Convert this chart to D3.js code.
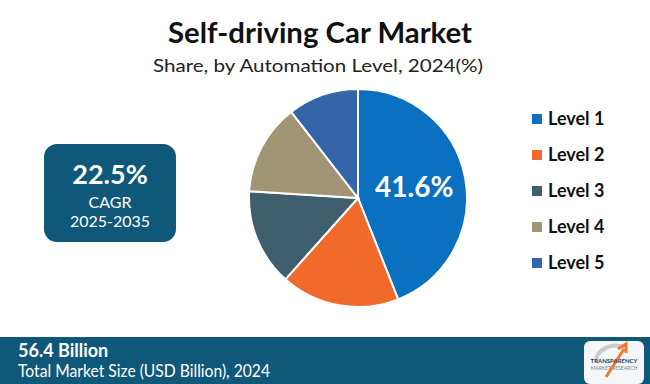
<!DOCTYPE html>
<html>
<head>
<meta charset="utf-8">
<script src="https://cdn.jsdelivr.net/npm/d3@7"></script>
<style>
  body { margin: 0; background: #ffffff; }
  svg { display: block; }
</style>
</head>
<body>
<svg id="chart" width="650" height="384"></svg>
<script>
//////////////////////////////////////
//////////// DATA ////////////////////
//////////////////////////////////////

var levels = ["Level 1", "Level 2", "Level 3", "Level 4", "Level 5"];
var shares = [44.0, 17.6, 14.4, 13.5, 10.5];
var colors = ["#0a70bf", "#f26a2b", "#3f5f6e", "#a19475", "#3565a9"];
var bigLabel = "41.6%";

var cagrValue = "22.5%";
var cagrText = "CAGR";
var cagrPeriod = "2025-2035";
var marketValue = "56.4 Billion";
var marketText = "Total Market Size (USD Billion), 2024";

var svg = d3.select("#chart"),
    width = +svg.attr("width"),
    height = +svg.attr("height");

var teal = "#0f587a";

//////////////////////////////////////
//////////// TITLES //////////////////
//////////////////////////////////////

svg.append("text")
    .attr("x", 320).attr("y", 43)
    .attr("text-anchor", "middle")
    .attr("font-family", "Lato, sans-serif")
    .attr("font-weight", "bold")
    .attr("font-size", 28)
    .attr("fill", "#111")
    .attr("textLength", 304)
    .attr("lengthAdjust", "spacingAndGlyphs")
    .text("Self-driving Car Market");

svg.append("text")
    .attr("x", 318).attr("y", 72)
    .attr("text-anchor", "middle")
    .attr("font-family", "Lato, sans-serif")
    .attr("font-size", 18)
    .attr("fill", "#222")
    .attr("textLength", 330)
    .attr("lengthAdjust", "spacingAndGlyphs")
    .text("Share, by Automation Level, 2024(%)");

//////////////////////////////////////
//////////// CAGR BOX ////////////////
//////////////////////////////////////

svg.append("rect")
    .attr("x", 44).attr("y", 144)
    .attr("width", 132).attr("height", 98)
    .attr("rx", 13)
    .attr("fill", teal);

svg.append("text")
    .attr("x", 110).attr("y", 184)
    .attr("text-anchor", "middle")
    .attr("font-family", "Lato, sans-serif")
    .attr("font-weight", "bold")
    .attr("font-size", 27)
    .attr("fill", "#fff")
    .text(cagrValue);

svg.append("text")
    .attr("x", 110).attr("y", 208)
    .attr("text-anchor", "middle")
    .attr("font-family", "Lato, sans-serif")
    .attr("font-size", 16)
    .attr("fill", "#fff")
    .text(cagrText);

svg.append("text")
    .attr("x", 110).attr("y", 227)
    .attr("text-anchor", "middle")
    .attr("font-family", "Lato, sans-serif")
    .attr("font-size", 16)
    .attr("fill", "#fff")
    .text(cagrPeriod);

//////////////////////////////////////
//////////// PIE CHART ///////////////
//////////////////////////////////////

var radius = 109,
    g = svg.append("g").attr("transform", "translate(358,198)");

var pie = d3.pie()
    .sort(null)
    .value(function(d) { return d; });

var path = d3.arc()
    .outerRadius(radius)
    .innerRadius(0);

var arcs = pie(shares);

g.selectAll(".arc")
  .data(arcs)
  .enter().append("path")
    .attr("class", "arc")
    .attr("d", path)
    .attr("fill", function(d, i) { return colors[i]; })
    .attr("stroke", "#fff")
    .attr("stroke-width", 2);

var label = d3.arc()
    .outerRadius(radius * 1.05)
    .innerRadius(0);

g.append("text")
    .attr("transform", function() { return "translate(" + label.centroid(arcs[0]) + ")"; })
    .attr("dy", "0.35em")
    .attr("text-anchor", "middle")
    .attr("font-family", "Lato, sans-serif")
    .attr("font-weight", "bold")
    .attr("font-size", 28)
    .attr("fill", "#fff")
    .text(bigLabel);

//////////////////////////////////////
//////////// LEGEND //////////////////
//////////////////////////////////////

var legend = svg.selectAll(".legend")
    .data(levels)
  .enter().append("g")
    .attr("class", "legend")
    .attr("transform", function(d, i) { return "translate(532," + (119 + i * 36) + ")"; });

legend.append("rect")
    .attr("x", 0).attr("y", -5)
    .attr("width", 10).attr("height", 10)
    .attr("fill", function(d, i) { return colors[i]; });

legend.append("text")
    .attr("x", 16)
    .attr("dy", "0.36em")
    .attr("font-family", "Lato, sans-serif")
    .attr("font-weight", "bold")
    .attr("font-size", 18)
    .attr("fill", "#111")
    .text(function(d) { return d; });

//////////////////////////////////////
//////////// FOOTER //////////////////
//////////////////////////////////////

svg.append("rect")
    .attr("x", 0).attr("y", 337)
    .attr("width", width).attr("height", height - 337)
    .attr("fill", teal);

svg.append("text")
    .attr("x", 18).attr("y", 357)
    .attr("font-family", "Lato, sans-serif")
    .attr("font-weight", "bold")
    .attr("font-size", 18)
    .attr("fill", "#fff")
    .text(marketValue);

svg.append("text")
    .attr("x", 18).attr("y", 377)
    .attr("font-family", "Lato, sans-serif")
    .attr("font-size", 17)
    .attr("fill", "#fff")
    .attr("textLength", 252)
    .attr("lengthAdjust", "spacingAndGlyphs")
    .text(marketText);

// logo
var logo = svg.append("g").attr("transform", "translate(584,341)");
logo.append("rect")
    .attr("width", 60).attr("height", 43)
    .attr("rx", 6)
    .attr("fill", "#f4f6f7");
logo.append("path")
    .attr("d", "M12,20 A20,16 0 0 1 40,6")
    .attr("fill", "none")
    .attr("stroke", "#c8ccd0")
    .attr("stroke-width", 4);
logo.append("path")
    .attr("d", "M22,36 L40,8 M34,8 L42,3 L42,12")
    .attr("fill", "none")
    .attr("stroke", "#f07a30")
    .attr("stroke-width", 3);
logo.append("text")
    .attr("x", 30).attr("y", 22)
    .attr("text-anchor", "middle")
    .attr("font-family", "Lato, sans-serif")
    .attr("font-weight", "bold")
    .attr("font-size", 6)
    .attr("fill", "#1f3b5a")
    .text("TRANSPARENCY");
logo.append("text")
    .attr("x", 30).attr("y", 29)
    .attr("text-anchor", "middle")
    .attr("font-family", "Lato, sans-serif")
    .attr("font-size", 5)
    .attr("fill", "#6a8a9a")
    .text("MARKET RESEARCH");
</script>
</body>
</html>
